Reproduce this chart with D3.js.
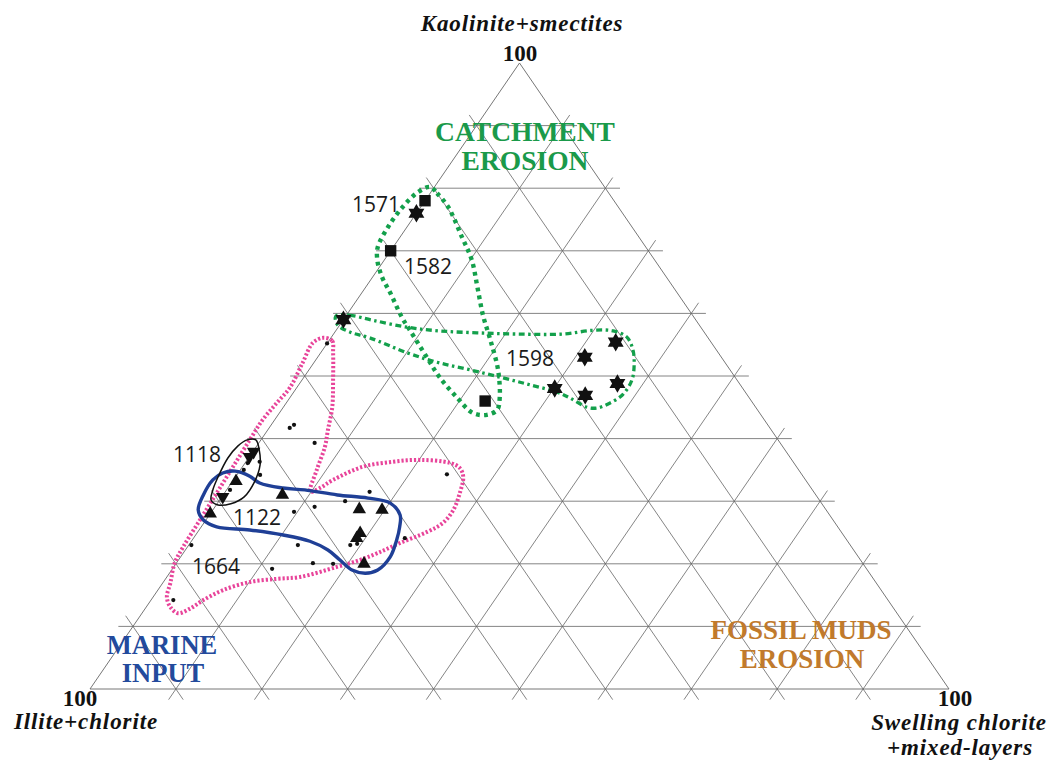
<!DOCTYPE html>
<html><head><meta charset="utf-8">
<script src="https://cdn.jsdelivr.net/npm/d3@7/dist/d3.min.js"></script>
<style>body{margin:0;background:#fff}svg{display:block}</style>
</head><body>
<svg id="c" width="1054" height="760"></svg>
<script>
// ---- DATA: each point is [Kaolinite+smectites %, Swelling chlorite+mixed-layers %]; Illite+chlorite = 100 - both
const axisNames = ["Kaolinite+smectites", "Illite+chlorite", "Swelling chlorite", "+mixed-layers"];
const cornerTicks = ["100", "100", "100"];
const gridLevels = [10, 20, 30, 40, 50, 60, 70, 80, 90];
const squares = [[78, 0], [70, 0], [46, 23]];
const stars = [[76, 0], [59, 0], [53, 31.1], [55.4, 33.5], [48, 30.1], [46.9, 34.2], [48.8, 37]];
const trianglesUp = [[31, 6.9], [28.7, 17], [28.6, 19.7], [24.9, 19], [24.1, 19], [20, 21.9], [33.2, 0.4], [28, 0]];
const trianglesDown = [[37.9, 0.1], [37.1, 0], [30.7, 0.1]];
const dots = [[41.7, 2.4], [42.2, 2.65], [39.3, 6.5], [55.2, 0], [36.3, 1.6], [34.2, 2.7], [36.1, 0.3], [35, 0.4],
  [31.8, 0.4], [31.5, 16.8], [30, 14.7], [29.1, 11.6], [28.3, 9.6], [24.1, 24.6], [23, 12.7], [23, 0.3],
  [20.1, 15.9], [20, 18.3], [19.2, 11.6], [14.2, 2.6], [34.3, 24.4], [23, 18.8], [23.2, 19.5]];
const sampleLabels = ["1571", "1582", "1598", "1118", "1122", "1664"];
const regionLabels = [["CATCHMENT", "EROSION"], ["MARINE", "INPUT"], ["FOSSIL MUDS", "EROSION"]];
// envelopes (same [K, S] convention)
const loopCatchment = [[80.2,-0.5],[79.2,0.8],[77,3.2],[72.2,7.2],[68.5,10.2],[64.2,13],[59.7,15.9],[55.8,18.7],[51,22],
  [46.6,24.4],[44.6,25.1],[43.8,24.3],[44.1,22.5],[46.6,19.4],[49.8,15.8],[52.9,12.8],[57.3,8.6],[59.4,6.6],[63.3,3.3],
  [65.8,1.1],[68.5,-0.8],[70.6,-1.8],[73.8,-2.2],[77,-2.1],[79.4,-1.5]];
const loop1598 = [[59.7,-1.1],[59.7,0.4],[58.9,3.5],[57.8,8],[57.2,12.1],[56.9,16.6],[56.7,21.4],[56.7,26.7],[57.3,29.9],
  [57.2,32.3],[56.2,34.4],[54.2,36.1],[52.1,37.3],[49.4,38.4],[47,38.5],[45.7,37.7],[44.9,36.6],[45,35.4],[46.5,32.6],
  [47.4,30.7],[48.6,26.9],[49.7,23.2],[51,18.7],[52.2,14.3],[53.7,10.1],[56.1,4.5],[57,1.8],[58.1,-0.2],[59.3,-1.1]];
const loop1664 = [[56.1,-0.9],[55.6,0.4],[53.8,1.4],[49.4,3.6],[45,5.7],[41.4,7],[38.7,8],[35,8.9],[31.5,9.9],[32.1,10.7],
  [33.4,11.6],[35.5,14],[36.3,17.1],[36.6,20.1],[36.1,23.9],[35.3,25.4],[33.9,26.5],[31.3,27.4],[28.6,28],[26.5,27.8],
  [25.1,26.7],[23.3,24.4],[21.7,22.6],[20.6,21.1],[19.5,19],[17.9,15.5],[17.6,13],[17.1,10.1],[15.8,7.6],[14.2,6.1],
  [12.8,5.2],[12.1,4.2],[13.1,2.8],[14.7,1.6],[16.9,0.9],[20.1,-0.2],[22.7,-0.5],[27,-0.7],[31.3,-0.9],[35.5,-1.1],
  [39.8,-1.3],[43,-1.4],[45.7,-1.1],[48.2,-0.8],[52.1,-1.3],[55.3,-1.7]];
const loop1122 = [[34.5,-1.8],[34.8,-0.5],[34,1.6],[32.9,3.3],[32.1,6.4],[31.8,9.1],[31,13.3],[30.5,17.1],[29.7,20.1],
  [27.8,22.2],[25.9,23.1],[23.8,23.8],[21.1,24.4],[19,24],[18.5,22.8],[19,21],[20.6,18.8],[22.2,16.6],[23.6,13.8],
  [24.6,10.2],[25.4,5.9],[25.9,1.8],[27,-0.3],[28.6,-1.7],[31,-2.3],[33.4,-2.4]];
const loop1118 = [[39.8,-0.6],[38.2,0.6],[35.8,1.9],[33.1,2.6],[30.7,2.6],[29.6,1.6],[29.4,0.2],[30.2,-1.0],[31.8,-1.6],
  [33.7,-2.0],[36.9,-2.4],[38.8,-2.2],[39.8,-1.6]];

// ---- LAYOUT
const svg = d3.select("#c");
const u = d3.scaleLinear().domain([0, 100]).range([90, 949]);   // S + K/2
const v = d3.scaleLinear().domain([0, 100]).range([689, 63]);   // K
const px = d => [u(d[1] + d[0] / 2), v(d[0])];
const ext = 1.7;
const gridColor = "#666";

const g = svg.append("g");
const line = d3.line();
gridLevels.forEach(k => {
  [[[k, -ext], [k, 100 - k + ext]],
   [[-ext, k], [100 - k + ext, k]],
   [[-ext, 100 - k + ext], [100 - k + ext, -ext]]].forEach(seg => {
    g.append("path").attr("d", line(seg.map(px))).attr("stroke", gridColor).attr("stroke-width", 0.8).attr("fill", "none");
  });
});
g.append("path").attr("d", line([[0,0],[0,100],[100,0]].map(px)) + "Z")
  .attr("stroke", gridColor).attr("stroke-width", 0.9).attr("fill", "none");

// envelopes
const closed = d3.line().curve(d3.curveCatmullRomClosed.alpha(0.5));
function env(data, color, width, dash) {
  const p = svg.append("path").attr("d", closed(data.map(px))).attr("fill", "none")
    .attr("stroke", color).attr("stroke-width", width);
  if (dash) p.attr("stroke-dasharray", dash);
}
env(loop1664, "#e8449a", 4, "2.2,2");
env(loopCatchment, "#13a04b", 4.4, "3.8,4.2");
env(loop1598, "#13a04b", 3.3, "6,3.5,2.5,3.5");
env(loop1122, "#1f3f96", 3.4, null);
env(loop1118, "#111", 1.5, null);

// markers
const hexagram = {draw(ctx, size) {
  const r = Math.sqrt(size) * 0.75;
  for (let t = 0; t < 2; t++) {
    for (let i = 0; i < 3; i++) {
      const a = (t ? Math.PI / 2 : -Math.PI / 2) + i * 2 * Math.PI / 3;
      const x = r * Math.cos(a), y = r * Math.sin(a);
      if (i === 0) ctx.moveTo(x, y); else ctx.lineTo(x, y);
    }
    ctx.closePath();
  }
}};
const downTri = {draw(ctx, size) {
  const s = Math.sqrt(size / (Math.sqrt(3) / 4));
  const h = s * Math.sqrt(3) / 2;
  ctx.moveTo(-s / 2, -h / 3); ctx.lineTo(s / 2, -h / 3); ctx.lineTo(0, 2 * h / 3); ctx.closePath();
}};
function marks(data, type, size) {
  svg.append("g").selectAll("path").data(data).join("path")
    .attr("transform", d => `translate(${px(d)})`)
    .attr("d", d3.symbol().type(type).size(size)).attr("fill", "#111");
}
marks(dots, d3.symbolCircle, 14);
marks(squares, d3.symbolSquare, 130);
marks(stars, hexagram, 150);
marks(trianglesUp, d3.symbolTriangle, 78);
marks(trianglesDown, downTri, 78);

// texts
const numPos = [[352, 212], [404, 274], [506, 366], [173, 462], [233, 525], [192, 574]];
svg.append("g").selectAll("text").data(sampleLabels).join("text")
  .attr("x", (d, i) => numPos[i][0]).attr("y", (d, i) => numPos[i][1])
  .attr("font-family", "Open Sans, sans-serif").attr("font-size", 21).attr("fill", "#1a1a1a").text(d => d);

function txt(x, y, s, opt) {
  const t = svg.append("text").attr("x", x).attr("y", y).attr("text-anchor", "middle")
    .attr("font-family", "Liberation Serif, Times New Roman, serif").attr("fill", opt.fill || "#111")
    .attr("font-size", opt.size).attr("font-weight", "bold").text(s);
  if (opt.italic) t.attr("font-style", "italic");
  if (opt.ls) t.attr("letter-spacing", opt.ls);
}
txt(522, 31, axisNames[0], {size: 23, italic: true, ls: 0.9});
txt(86, 729, axisNames[1], {size: 23, italic: true, ls: 0.9});
txt(959, 730, axisNames[2], {size: 23, italic: true, ls: 0.9});
txt(960, 755, axisNames[3], {size: 23, italic: true, ls: 0.9});
txt(520, 61, cornerTicks[0], {size: 23});
txt(80, 706, cornerTicks[1], {size: 23});
txt(955, 706, cornerTicks[2], {size: 23});
const green = "#1a9a4a", blue = "#234a9c", orange = "#c17a2c";
txt(525, 141, regionLabels[0][0], {size: 27.5, fill: green});
txt(525, 170, regionLabels[0][1], {size: 27.5, fill: green});
txt(162, 654, regionLabels[1][0], {size: 26.5, fill: blue});
txt(163, 682, regionLabels[1][1], {size: 26.5, fill: blue});
txt(801, 639, regionLabels[2][0], {size: 27, fill: orange});
txt(802, 668, regionLabels[2][1], {size: 27, fill: orange});
</script>
</body></html>
